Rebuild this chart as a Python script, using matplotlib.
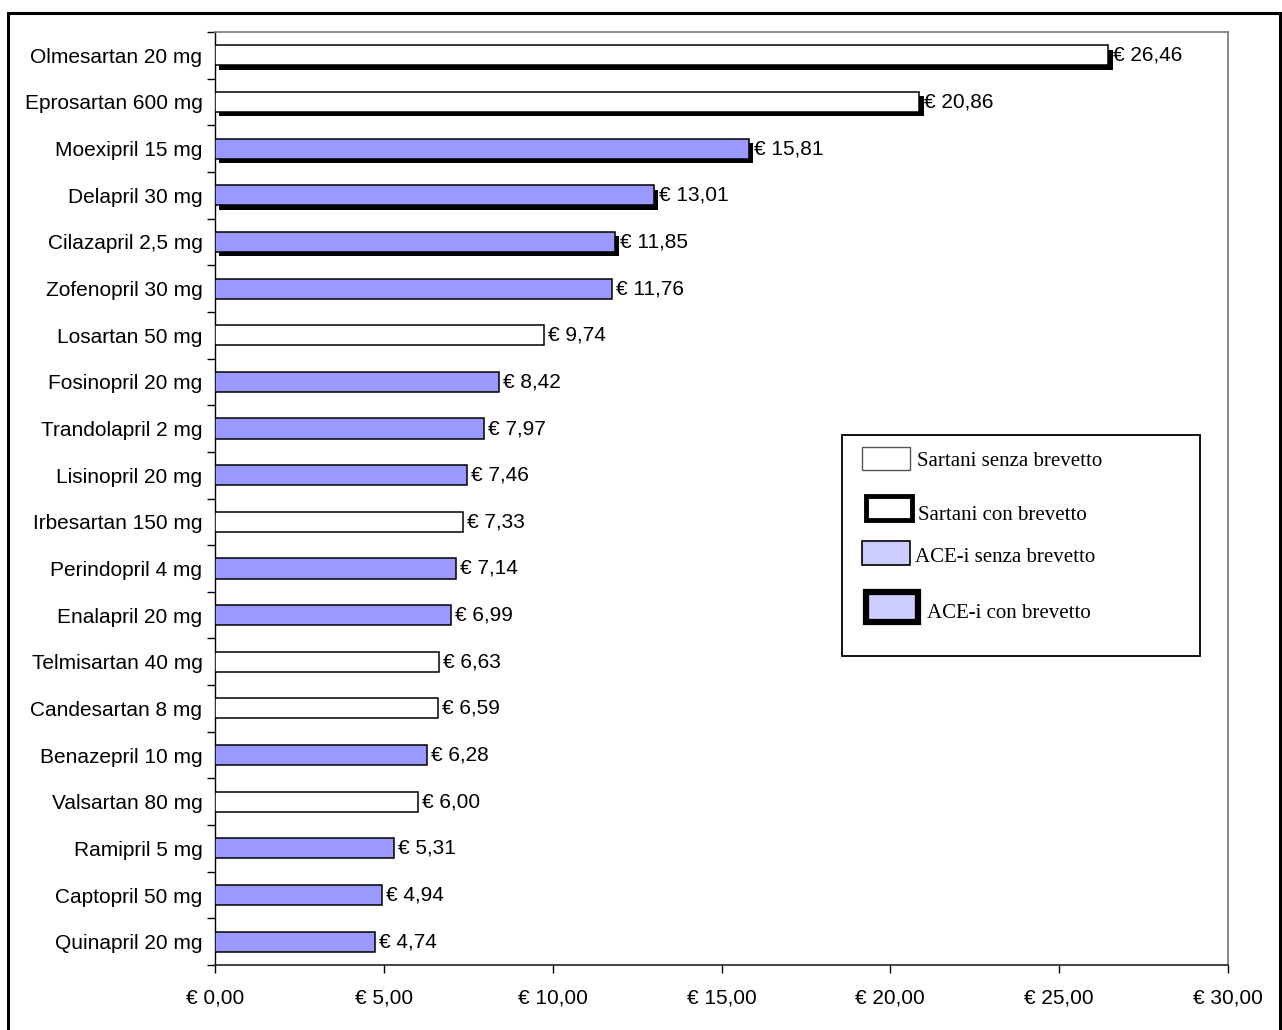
import matplotlib
matplotlib.use("Agg")
import matplotlib.pyplot as plt
import matplotlib.patches as mpatches
import matplotlib.patheffects as pe
from matplotlib.ticker import FixedLocator, FuncFormatter
import numpy as np

# ---- data ----
drugs = ["Olmesartan 20 mg", "Eprosartan 600 mg", "Moexipril 15 mg", "Delapril 30 mg",
         "Cilazapril 2,5 mg", "Zofenopril 30 mg", "Losartan 50 mg", "Fosinopril 20 mg",
         "Trandolapril 2 mg", "Lisinopril 20 mg", "Irbesartan 150 mg", "Perindopril 4 mg",
         "Enalapril 20 mg", "Telmisartan 40 mg", "Candesartan 8 mg", "Benazepril 10 mg",
         "Valsartan 80 mg", "Ramipril 5 mg", "Captopril 50 mg", "Quinapril 20 mg"]
costs = [26.46, 20.86, 15.81, 13.01, 11.85, 11.76, 9.74, 8.42, 7.97, 7.46, 7.33, 7.14,
         6.99, 6.63, 6.59, 6.28, 6.00, 5.31, 4.94, 4.74]
drug_class = ["S", "S", "A", "A", "A", "A", "S", "A", "A", "A", "S", "A",
              "A", "S", "S", "A", "S", "A", "A", "A"]
patented = [True, True, True, True, True, False, False, False, False, False, False, False,
            False, False, False, False, False, False, False, False]
legend_labels = ["Sartani senza brevetto", "Sartani con brevetto",
                 "ACE-i senza brevetto", "ACE-i con brevetto"]
x_ticks = [0, 5, 10, 15, 20, 25, 30]

ACE_COLOR = "#9999FF"
ACE_LEGEND = "#CCCCFF"
SANS = ["Liberation Sans", "DejaVu Sans"]
SERIF = ["Liberation Serif", "DejaVu Serif"]
FS = 15

W, H = 1282, 1030
fig = plt.figure(figsize=(W / 100, H / 100), dpi=100)
fig.patch.set_facecolor("white")

def fx(px):
    return px / W

def fy(py):
    return 1 - py / H

ax = fig.add_axes([fx(215), fy(965), fx(1228) - fx(215), fy(32) - fy(965)])

n = len(drugs)
ypos = np.arange(n)
for i in range(n):
    face = ACE_COLOR if drug_class[i] == "A" else "white"
    bar = ax.barh(ypos[i], costs[i], height=0.43, color=face, edgecolor="black",
                  linewidth=1.1, zorder=3)
    if patented[i]:
        for p in bar.patches:
            p.set_path_effects([pe.SimplePatchShadow(offset=(3.0, -3.2),
                                                     shadow_rgbFace="black", alpha=1.0),
                                pe.Normal()])
    lbl = "€ " + f"{costs[i]:.2f}".replace(".", ",")
    ax.annotate(lbl, xy=(costs[i], ypos[i]), xytext=(3.5 if patented[i] else 3, 0),
                textcoords="offset points", va="center", ha="left",
                fontsize=FS, family=SANS, color="black")

ax.set_xlim(0, 30)
ax.set_ylim(n - 0.5, -0.5)

ax.set_yticks(ypos)
ax.set_yticklabels(drugs, family=SANS, fontsize=FS)
ax.yaxis.set_minor_locator(FixedLocator(np.arange(-0.5, n, 1.0)))
ax.tick_params(axis="y", which="major", length=0, pad=9)
ax.tick_params(axis="y", which="minor", length=6, width=1, direction="out")

ax.set_xticks(x_ticks)
ax.xaxis.set_major_formatter(FuncFormatter(lambda v, p: "€ " + f"{v:.2f}".replace(".", ",")))
ax.tick_params(axis="x", which="major", length=6, width=1, direction="out", pad=11)
for t in ax.get_xticklabels():
    t.set_family(SANS)
    t.set_fontsize(FS)

for s in ["top", "right"]:
    ax.spines[s].set_color("#808080")
    ax.spines[s].set_linewidth(1.3)
ax.spines["left"].set_color("black")
ax.spines["left"].set_linewidth(1.0)
ax.spines["bottom"].set_color("#333333")
ax.spines["bottom"].set_linewidth(1.3)

# outer chart frame
fig.add_artist(mpatches.Rectangle((fx(8), -0.02), fx(1280) - fx(8), fy(13) + 0.02,
                                  transform=fig.transFigure, fill=False,
                                  edgecolor="black", linewidth=2.2, clip_on=False))

# legend box
fig.add_artist(mpatches.Rectangle((fx(842), fy(656)), fx(1200) - fx(842), fy(435) - fy(656),
                                  transform=fig.transFigure, facecolor="white",
                                  edgecolor="black", linewidth=1.3))

leg_items = [
    # (x0, y0, x1, y1, face, edge lw, text x, text y)
    (862, 447, 910, 470, "white", 1.0, 917, 462),
    (866, 496, 912, 520, "white", 3.5, 918, 515),
    (862, 541, 910, 565, ACE_LEGEND, 1.2, 915, 558),
    (866, 592, 918, 622, ACE_LEGEND, 4.5, 927, 614),
]
for (x0, y0, x1, y1, face, lw, tx, ty), lab in zip(leg_items, legend_labels):
    edge = "#555555" if lw < 1.1 else "black"
    r = mpatches.Rectangle((fx(x0), fy(y1)), fx(x1) - fx(x0), fy(y0) - fy(y1),
                           transform=fig.transFigure, facecolor=face,
                           edgecolor=edge, linewidth=lw)
    fig.add_artist(r)
    fig.text(fx(tx), fy(ty), lab, family=SERIF, fontsize=15, va="center", ha="left")

fig.savefig("out.png", dpi=100, facecolor="white")
